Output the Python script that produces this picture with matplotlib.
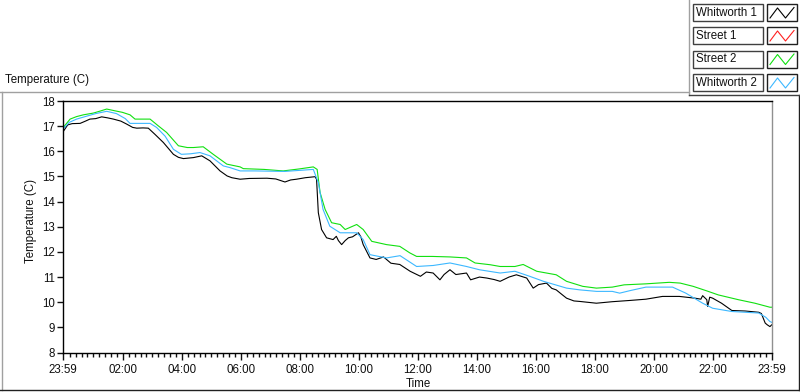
import matplotlib
matplotlib.use('Agg')
import matplotlib.pyplot as plt
from matplotlib.patches import Rectangle
from matplotlib.lines import Line2D
from matplotlib.ticker import FixedLocator

plt.rcParams['font.family'] = ['Liberation Sans', 'DejaVu Sans']

# hours since 23:59 (start of log) and temperature in C
wh1_hours = [0.0, 0.15, 0.3, 0.57, 0.75, 0.9, 1.1, 1.3, 1.5, 1.7, 1.95, 2.15, 2.35, 2.49, 2.7, 2.88,
             3.1, 3.39, 3.73, 3.9, 4.07, 4.41, 4.69, 4.97, 5.31, 5.55, 5.71, 5.99, 6.3, 6.9, 7.2,
             7.51, 7.7, 7.9, 8.2, 8.53, 8.58, 8.64, 8.75, 8.92, 9.14, 9.25, 9.32, 9.43, 9.55, 9.66,
             9.8, 10.0, 10.08, 10.16, 10.39, 10.6, 10.85, 11.1, 11.4, 11.75, 12.1, 12.3, 12.53,
             12.76, 12.9, 13.1, 13.3, 13.66, 13.8, 14.1, 14.35, 14.6, 14.8, 15.1, 15.35, 15.7,
             15.92, 16.1, 16.37, 16.55, 16.7, 16.9, 17.05, 17.3, 17.5, 18.06, 18.6, 19.2, 19.74,
             20.3, 20.87, 21.4, 21.6, 21.66, 21.8, 21.83, 21.9, 22.0, 22.3, 22.65, 23.1, 23.56,
             23.65, 23.78, 23.85, 23.94, 24.0]
wh1_temp = [16.79, 17.05, 17.1, 17.11, 17.2, 17.28, 17.3, 17.37, 17.33, 17.28, 17.2, 17.08, 16.95,
            16.92, 16.93, 16.92, 16.68, 16.35, 15.88, 15.76, 15.71, 15.75, 15.82, 15.62, 15.22,
            15.02, 14.95, 14.89, 14.92, 14.93, 14.9, 14.78, 14.86, 14.89, 14.95, 14.99, 14.89,
            13.56, 12.89, 12.56, 12.49, 12.62, 12.45, 12.29, 12.45, 12.56, 12.6, 12.76, 12.6,
            12.29, 11.76, 11.7, 11.8, 11.55, 11.5, 11.23, 11.03, 11.2, 11.16, 10.89, 11.1, 11.29,
            11.1, 11.16, 10.89, 11.0, 10.96, 10.9, 10.83, 11.0, 11.09, 10.96, 10.56, 10.7, 10.76,
            10.55, 10.49, 10.3, 10.16, 10.05, 10.03, 9.96, 10.02, 10.07, 10.12, 10.23, 10.23,
            10.16, 10.12, 10.26, 10.1, 9.83, 10.2, 10.16, 9.96, 9.67, 9.65, 9.6, 9.55, 9.17, 9.1,
            9.03, 9.1]

# Street 1 trace is not visible on the chart
st1_hours = []
st1_temp = []

st2_hours = [0.0, 0.23, 0.45, 0.68, 1.02, 1.25, 1.47, 1.75, 2.0, 2.26, 2.43, 2.94, 3.22, 3.5, 3.9,
             4.2, 4.41, 4.74, 5.08, 5.54, 5.99, 6.1, 6.8, 7.45, 8.0, 8.47, 8.6, 8.7, 8.87, 9.09,
             9.38, 9.55, 9.94, 10.16, 10.45, 10.95, 11.4, 11.74, 11.97, 12.5, 13.1, 13.66, 13.95,
             14.46, 14.8, 15.3, 15.58, 16.04, 16.7, 17.05, 17.6, 18.06, 18.6, 19.0, 19.74, 20.53,
             20.9, 21.34, 21.8, 22.19, 22.87, 23.43, 23.94, 24.0]
st2_temp = [16.95, 17.28, 17.38, 17.45, 17.52, 17.6, 17.68, 17.61, 17.55, 17.45, 17.28, 17.28,
            17.01, 16.75, 16.22, 16.15, 16.15, 16.18, 15.88, 15.49, 15.38, 15.31, 15.28, 15.22,
            15.3, 15.38, 15.28, 14.36, 13.69, 13.16, 13.09, 12.89, 13.09, 12.89, 12.42, 12.29,
            12.22, 11.96, 11.82, 11.82, 11.8, 11.76, 11.56, 11.49, 11.42, 11.42, 11.5, 11.23,
            11.09, 10.83, 10.63, 10.56, 10.6, 10.69, 10.73, 10.79, 10.76, 10.63, 10.45, 10.29,
            10.1, 9.96, 9.8, 9.8]

wh2_hours = [0.0, 0.2, 0.45, 0.8, 1.1, 1.47, 1.8, 2.1, 2.26, 2.94, 3.16, 3.45, 3.73, 4.0, 4.3,
             4.63, 4.97, 5.42, 5.65, 5.99, 6.5, 7.5, 8.47, 8.64, 8.8, 9.03, 9.38, 9.94, 10.16,
             10.39, 10.95, 11.41, 11.97, 12.53, 13.1, 13.66, 14.1, 14.8, 15.3, 15.8, 16.27, 17.05,
             17.5, 18.07, 18.6, 18.85, 19.2, 19.74, 20.64, 21.09, 21.66, 22.0, 22.65, 23.56, 23.8,
             23.94, 24.0]
wh2_temp = [16.9, 17.15, 17.28, 17.4, 17.5, 17.59, 17.5, 17.3, 17.11, 17.11, 16.95, 16.6, 16.08,
            15.88, 15.9, 15.95, 15.82, 15.42, 15.35, 15.22, 15.22, 15.2, 15.28, 14.75, 13.69,
            13.02, 12.76, 12.76, 12.49, 11.89, 11.76, 11.85, 11.42, 11.46, 11.56, 11.42, 11.29,
            11.16, 11.23, 11.03, 10.83, 10.56, 10.49, 10.43, 10.43, 10.36, 10.46, 10.6, 10.6,
            10.36, 9.96, 9.76, 9.63, 9.57, 9.4, 9.23, 9.2]

series_names = ['Whitworth 1', 'Street 1', 'Street 2', 'Whitworth 2']
series_colors = ['#000000', '#ff2020', '#10e010', '#3cb8ff']

tick_hours = [0, 2 + 1 / 60, 4 + 1 / 60, 6 + 1 / 60, 8 + 1 / 60, 10 + 1 / 60, 12 + 1 / 60,
              14 + 1 / 60, 16 + 1 / 60, 18 + 1 / 60, 20 + 1 / 60, 22 + 1 / 60, 24]
tick_labels = ['23:59', '02:00', '04:00', '06:00', '08:00', '10:00', '12:00', '14:00', '16:00',
               '18:00', '20:00', '22:00', '23:59']

W, H = 800, 392
fig = plt.figure(figsize=(W / 100, H / 100), dpi=100)

# pixel-space overlay for the LabVIEW style frame + legend
ov = fig.add_axes([0, 0, 1, 1])
ov.set_xlim(0, W)
ov.set_ylim(H, 0)
ov.axis('off')
ov.add_line(Line2D([0, 689], [92, 92], color='#a0a0a0', lw=1))
ov.add_line(Line2D([2, 2], [92, 390], color='#a0a0a0', lw=1))
ov.add_line(Line2D([0, 800], [390, 390], color='#202020', lw=1))
ov.add_line(Line2D([798.5, 798.5], [95, 390], color='#202020', lw=1))
ov.add_line(Line2D([689, 689], [0, 95], color='#a0a0a0', lw=1))
ov.add_line(Line2D([689, 800], [95, 95], color='#404040', lw=1))

row_tops = [4, 27, 50.5, 74]
for name, col, top in zip(series_names, series_colors, row_tops):
    ov.add_patch(Rectangle((693, top), 70, 17, fill=False, ec='#404040', lw=1))
    ov.add_patch(Rectangle((767, top), 30, 17, fill=False, ec='#202020', lw=1))
    ov.text(696, top + 8.8, name, fontsize=8.3, va='center', ha='left', color='#101010')
    zx = [770, 777.5, 785.5, 794]
    zy = [top + 14, top + 4, top + 14, top + 3.5]
    ov.add_line(Line2D(zx, zy, color=col, lw=0.8))

ov.text(5, 80, 'Temperature (C)', fontsize=8.3, va='center', ha='left', color='#101010')

ax = fig.add_axes([63.3 / W, 1 - 352.5 / H, (771.7 - 63.3) / W, (352.5 - 101) / H])
ax.plot(wh1_hours, wh1_temp, color=series_colors[0], lw=0.8)
ax.plot(st1_hours, st1_temp, color=series_colors[1], lw=0.8)
ax.plot(st2_hours, st2_temp, color=series_colors[2], lw=0.8)
ax.plot(wh2_hours, wh2_temp, color=series_colors[3], lw=0.8)

ax.set_xlim(0, 24)
ax.set_ylim(8, 18)
ax.set_xticks(tick_hours)
ax.set_xticklabels(tick_labels)
ax.xaxis.set_minor_locator(FixedLocator([1 / 60 + 0.2 * k for k in range(1, 120)]))
ax.set_yticks(range(8, 19))
ax.tick_params(axis='both', which='major', direction='out', length=4, width=1,
               labelsize=8.3, colors='#101010', pad=2)
ax.tick_params(axis='x', which='major', length=5, pad=3)
ax.tick_params(axis='x', which='minor', direction='out', length=3, width=1, colors='#101010')
for s in ['left', 'bottom', 'top']:
    ax.spines[s].set_color('#000000')
    ax.spines[s].set_linewidth(1)
ax.spines['right'].set_color('#909090')
ax.spines['right'].set_linewidth(1)

fig.text(418 / W, 1 - 384 / H, 'Time', fontsize=8.3, ha='center', va='center', color='#101010')
fig.text(31 / W, 1 - 221 / H, 'Temperature (C)', fontsize=8.3, rotation=90,
         ha='center', va='center', color='#101010')

fig.savefig('out.png', dpi=100)
